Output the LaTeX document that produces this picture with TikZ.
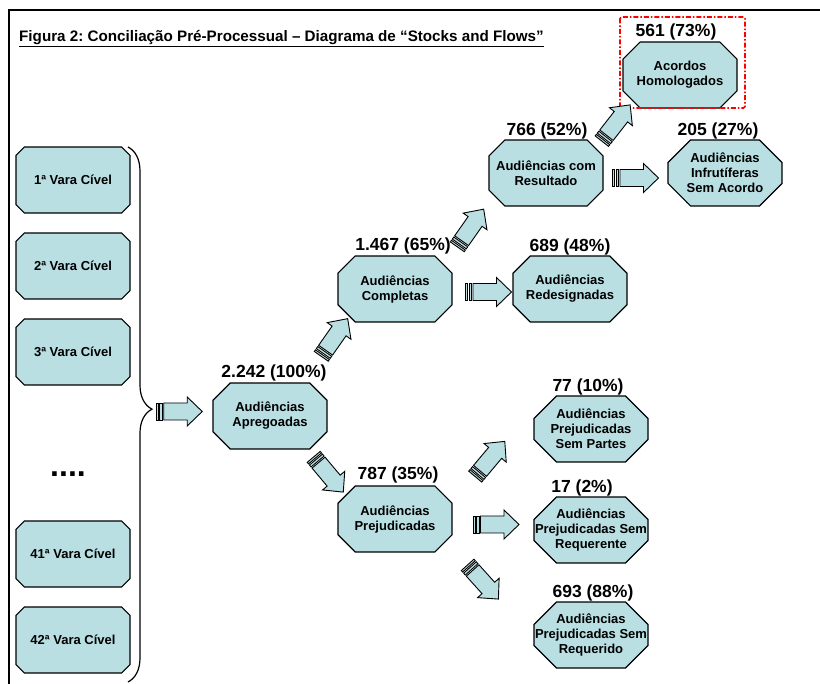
\documentclass[tikz,border=0pt]{standalone}
\usepackage{fontspec}
\setmainfont{Liberation Sans}
\usetikzlibrary{shapes.misc,calc,decorations.pathreplacing}
\frenchspacing

\definecolor{boxblue}{RGB}{185,223,227}

\tikzset{
  vara/.style={chamfered rectangle, chamfered rectangle xsep=19pt, draw, line width=1.1pt,
    fill=boxblue, minimum width=114pt, minimum height=66pt, inner xsep=-19pt, inner ysep=0pt,
    align=center, font=\bfseries\fontsize{13}{15}\selectfont},
  qty/.style={anchor=base, inner sep=0pt, font=\bfseries\fontsize{17.5}{20}\selectfont},
  flowline/.style={draw, line width=0.9pt, fill=boxblue, line join=miter},
  hilite/.style={red, line width=1.6pt, dash pattern=on 5pt off 2pt on 1.5pt off 2pt, rounded corners=1.5pt},
  flowarrow/.pic={
    \filldraw[flowline] (-23,-8.5) rectangle (-21,8.5);
    \filldraw[flowline] (-19.5,-8.5) rectangle (-17,8.5);
    \filldraw[flowline] (-15.5,-8.5) -- (8,-8.5) -- (8,-14.5) -- (23,0) -- (8,14.5) -- (8,8.5) -- (-15.5,8.5) -- cycle;
  }
}
\newcommand{\flow}[4]{\pic[rotate=#3] at ($(#1)!.5!(#2)+#4$) {flowarrow};}

\begin{document}
\begin{tikzpicture}[x=1pt, y=-1pt]
\useasboundingbox (0,0) rectangle (820,684);
\draw[line width=1.5pt] (9,684) -- (9,10) -- (820,10);

\node[anchor=base west, inner sep=0pt, font=\bfseries\fontsize{15.2}{18}\selectfont] (title) at (19,42)
  {\underline{Figura 2: Conciliação Pré-Processual – Diagrama de “Stocks and Flows”}};

\node[vara] (v1) at (73,180) {1ª Vara Cível};
\node[vara] (v2) at (73,266) {2ª Vara Cível};
\node[vara] (v3) at (73,352) {3ª Vara Cível};
\node[anchor=base, inner sep=0pt, font=\bfseries\fontsize{32}{32}\selectfont] (dots) at (68,477) {....};
\node[vara] (v41) at (73,554) {41ª Vara Cível};
\node[vara] (v42) at (73,640) {42ª Vara Cível};

\draw[line width=1.2pt, decorate, decoration={brace, amplitude=24pt, aspect=0.49}] (128,147) -- (128,682);
\coordinate (tip) at (152,413);

\node[vara] (apreg) at (270,416) {Audiências\\Apregoadas};
\node[vara] (compl) at (395,289) {Audiências\\Completas};
\node[vara] (redes) at (570,289) {Audiências\\Redesignadas};
\node[vara] (result) at (546,173) {Audiências com\\Resultado};
\node[vara] (acordos) at (680,75) {Acordos\\Homologados};
\node[vara] (infrut) at (725,173) {Audiências\\Infrutíferas\\Sem Acordo};
\node[vara] (prejud) at (395,519) {Audiências\\Prejudicadas};
\node[vara] (partes) at (591,429) {Audiências\\Prejudicadas\\Sem Partes};
\node[vara] (requerente) at (591,530) {Audiências\\Prejudicadas Sem\\Requerente};
\node[vara] (requerido) at (591,635) {Audiências\\Prejudicadas Sem\\Requerido};

\node[qty] (q561) at ([shift={(-4,-5)}]acordos.north) {561 (73\%)};
\node[qty] (q205) at ([shift={(-7,-4)}]infrut.north) {205 (27\%)};
\node[qty] (q766) at ([shift={(1,-4)}]result.north) {766 (52\%)};
\node[qty] (q1467) at ([shift={(8,-5)}]compl.north) {1.467 (65\%)};
\node[qty] (q689) at ([shift={(0,-4)}]redes.north) {689 (48\%)};
\node[qty] (q2242) at ([shift={(4,-5)}]apreg.north) {2.242 (100\%)};
\node[qty] (q787) at ([shift={(3,-6)}]prejud.north) {787 (35\%)};
\node[qty] (q77) at ([shift={(-3,-4)}]partes.north) {77 (10\%)};
\node[qty] (q17) at ([shift={(-9,-4)}]requerente.north) {17 (2\%)};
\node[qty] (q693) at ([shift={(2,-4)}]requerido.north) {693 (88\%)};

\draw[hilite] ([shift={(-60,-58)}]acordos.center) rectangle ([shift={(65,33)}]acordos.center);

\flow{tip}{apreg.west}{0}{(-3,-3)}
\flow{apreg}{compl}{55}{(2,-15)}
\flow{apreg}{prejud}{-50}{(-4,7)}
\flow{compl}{result}{55}{(0,-3)}
\flow{compl.east}{redes.west}{0}{(6,3)}
\flow{result}{acordos}{52}{(3,-1)}
\flow{result.east}{infrut.west}{0}{(0,5)}
\flow{prejud}{partes}{50}{(-3,-15)}
\flow{prejud.east}{requerente.west}{0}{(3,0)}
\flow{prejud}{requerido}{-48}{(-10,5)}
\end{tikzpicture}
\end{document}
